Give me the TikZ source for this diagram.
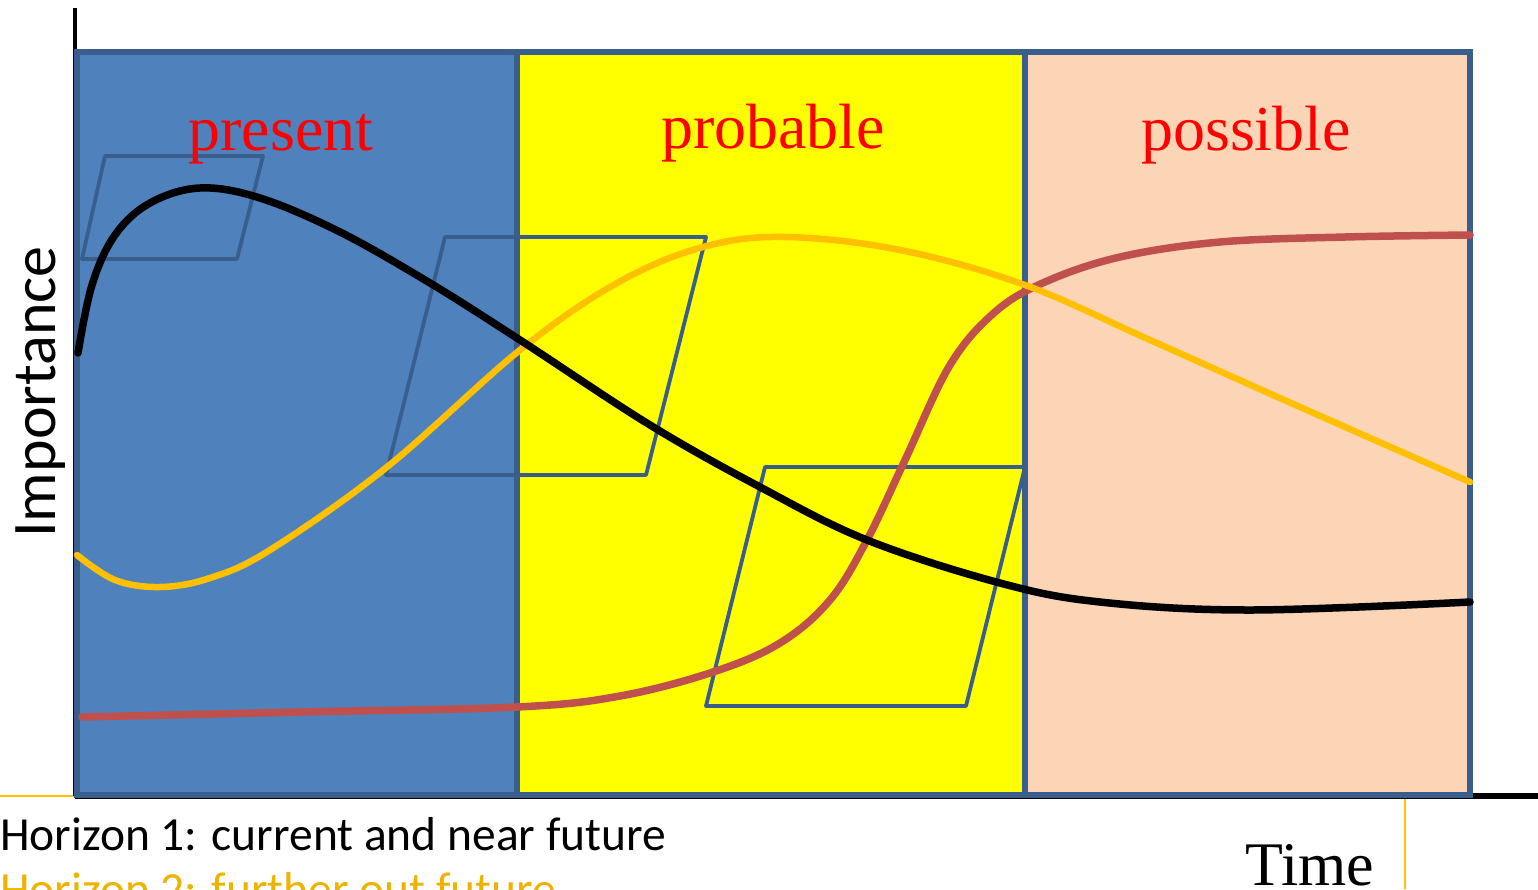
\documentclass[tikz,border=0pt]{standalone}
\usepackage{fontspec}
\setmainfont{Liberation Serif}
\newfontfamily\calib{Carlito}
\definecolor{boxline}{RGB}{58,94,140}
\definecolor{bluefill}{RGB}{79,129,189}
\definecolor{yellowfill}{RGB}{255,255,0}
\definecolor{peachfill}{RGB}{251,213,181}
\definecolor{curveorange}{RGB}{255,192,0}
\definecolor{curvered}{RGB}{192,80,77}
\definecolor{goldtext}{RGB}{238,178,0}
\begin{document}
\begin{tikzpicture}[x=1pt,y=-1pt,
  zonebox/.style={draw=boxline,line width=5.5pt},
  para/.style={draw=boxline,line width=3.8pt,line join=round},
  curve/.style={line width=7.5pt,line cap=round,smooth,tension=0.6},
  zonelabel/.style={anchor=base,text=red,font=\fontsize{64}{70}\selectfont,inner sep=0pt},
  guide/.style={draw=curveorange,line width=1.8pt}]
\useasboundingbox (0,0) rectangle (1538,889);
% thin guide lines
\draw[guide] (0,796) -- (1405,796);
\draw[guide] (1405,797) -- (1405,889);
% axes
\draw[line width=4.5pt] (75,8) -- (75,796);
\draw[line width=5.5pt] (75,796) -- (1538,796);
% zone fills
\fill[bluefill] (77,52) rectangle (517,795);
\fill[yellowfill] (517,52) rectangle (1025,795);
\fill[peachfill] (1025,52) rectangle (1470,795);
% parallelograms
\draw[para] (105,156) -- (263,156) -- (237,259) -- (82,259) -- cycle;
\draw[para] (445,237) -- (706,237) -- (646,475) -- (386,475) -- cycle;
\draw[para] (765,467) -- (1025,467) -- (966,706) -- (706,706) -- cycle;
% zone borders
\draw[zonebox] (77,52) rectangle (517,795);
\draw[zonebox] (517,52) rectangle (1025,795);
\draw[zonebox] (1025,52) rectangle (1470,795);
% labels
\node[zonelabel] (present) at (281,150) {present};
\node[zonelabel] (probable) at (773,148) {probable};
\node[zonelabel] (possible) at (1246,150) {possible};
\node[anchor=base,rotate=90,inner sep=0pt,font=\calib\fontsize{62}{70}\selectfont] (importance) at (55,392) {Importance};
\node[anchor=base west,inner sep=0pt,font=\calib\fontsize{47.5}{55}\selectfont] (h1) at (0,850) {Horizon 1: current and near future};
\node[anchor=base west,inner sep=0pt,text=goldtext,font=\calib\fontsize{47.5}{55}\selectfont] (h2) at (0,905) {Horizon 2: further out future};
\node[anchor=base,inner sep=0pt,font=\fontsize{62}{70}\selectfont] (time) at (1310,885) {Time};
% curves
\draw[curve,curvered] plot coordinates {(82,717) (300,712) (517,707) (620,696) (713,672) (780,643) (830,600) (867,540) (905,460) (950,365) (995,312) (1045,282) (1120,257) (1220,242) (1345,237) (1470,235)};
\draw[curve,curveorange,line width=6.5pt] plot coordinates {(77,555) (115,580) (160,587) (210,578) (270,550) (387,467) (520,350) (617,283) (703,247) (785,237) (900,250) (1025,285) (1150,340) (1300,407) (1470,482)};
\draw[curve,black] plot coordinates {(78,353) (92,285) (115,235) (150,203) (200,188) (260,198) (340,232) (430,283) (520,340) (650,425) (760,487) (867,540) (1000,583) (1100,602) (1250,610) (1470,602)};
\end{tikzpicture}
\end{document}
